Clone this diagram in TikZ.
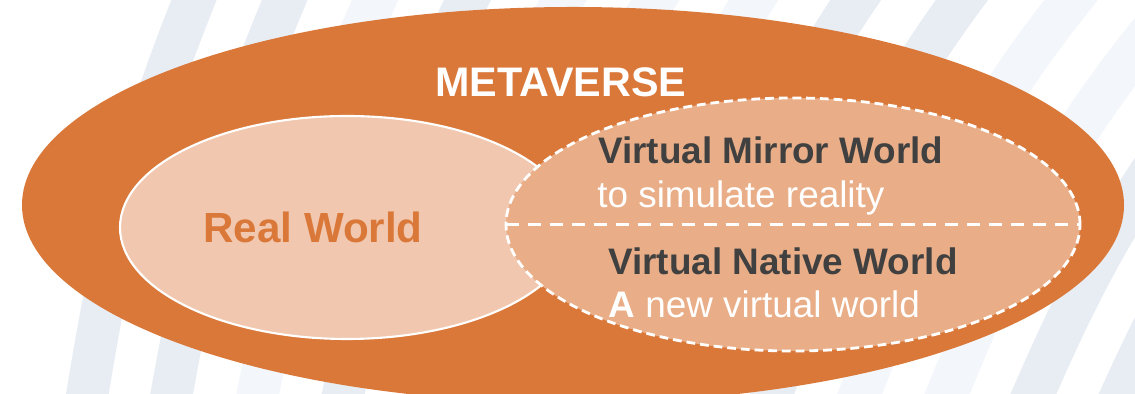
\documentclass[tikz,border=0pt]{standalone}
\usepackage{fontspec}
\setmainfont{Liberation Sans}
\definecolor{metaorange}{HTML}{DA783A}
\definecolor{realfill}{HTML}{F1C8AF}
\definecolor{virtfill}{HTML}{E9AE87}
\definecolor{darktext}{HTML}{404040}
\definecolor{stripelight}{HTML}{F3F6FA}
\definecolor{stripeblue}{HTML}{E8EDF3}

\begin{document}
\begin{tikzpicture}[x=0.02cm, y=0.02cm,
    head/.style={anchor=base west, inner sep=0pt, darktext,
      font=\bfseries\fontsize{21}{25}\selectfont},
    desc/.style={anchor=base west, inner sep=0pt, white,
      font=\fontsize{21}{25}\selectfont}]
  \def\Xmax{1135};
  \def\Ymax{394};

  \def\Xm{573};
  \def\Ym{189};
  \def\Rxm{551};
  \def\Rym{198};

  \def\Xr{347};
  \def\Yr{166.5};
  \def\Rxr{227};
  \def\Ryr{111.5};

  \def\Xv{793};
  \def\Yv{169.5};
  \def\Rxv{287};
  \def\Ryv{126.5};

  \useasboundingbox (0,0) rectangle (\Xmax,\Ymax);
  \clip (0,0) rectangle (\Xmax,\Ymax);

	% stripes
	\foreach \xb/\xt/\ab/\at/\c in {85/200/81/248/stripeblue, 169/291/80/247/stripeblue,
	    255/382/79/245/stripelight, 340/475/78/243/stripeblue, 427/571/77/241/stripelight,
	    514/664/76/239/stripelight, 600/763/75/237/stripelight, 685/866/73/235/stripeblue,
	    767/973/71/233/stripeblue, 854/1083/69/231/stripelight, 941/1190/68/229/stripelight,
	    1027/1300/67/228/stripeblue, 1115/1400/66/227/stripeblue}
	  \draw[\c, line width=24pt] (\xb,-15) to[out=\ab, in=\at] (\xt,\Ymax+15);

         % areas
         \draw [fill=metaorange, draw=none] (\Xm, \Ym) ellipse ({\Rxm} and {\Rym});
         \draw [fill=realfill, draw=white, line width=1.2pt] (\Xr, \Yr) ellipse ({\Rxr} and {\Ryr});
         \draw [fill=virtfill, draw=white, line width=1.6pt, dash pattern=on 5pt off 2.8pt]
           (\Xv, \Yv) ellipse ({\Rxv} and {\Ryv});

	% divider
	\coordinate (vleft) at (\Xv - \Rxv, \Yv);
	\coordinate (vright) at (\Xv + \Rxv, \Yv);
	\draw[white, line width=2.2pt, dash pattern=on 7.5pt off 5pt] (vleft) -- (vright);

	% labels
	\node[anchor=base, inner sep=0pt, white, font=\bfseries\fontsize{23.5}{28}\selectfont]
	  (meta) at (561, 297) {METAVERSE};
	\node[anchor=base, inner sep=0pt, metaorange, font=\bfseries\fontsize{24}{29}\selectfont]
	  (real) at (313, 151) {Real World};
	\node[head] (mirror) at (598, 230) {Virtual Mirror World};
	\node[desc] (mirrortxt) at (597, 186) {to simulate reality};
	\node[head] (native) at (608, 119) {Virtual Native World};
	\node[desc] (nativetxt) at (608, 76) {\textbf{A} new virtual world};
\end{tikzpicture}
\end{document}
